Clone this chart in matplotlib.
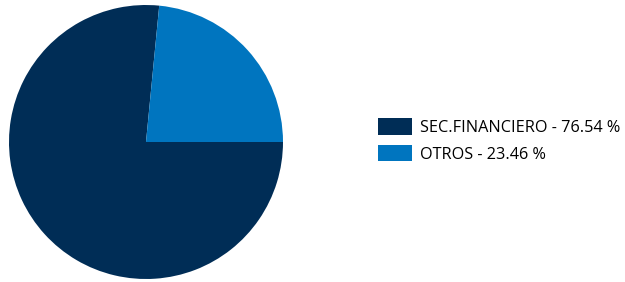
import matplotlib.pyplot as plt
from matplotlib.patches import Patch

labels = ['SEC.FINANCIERO', 'OTROS']
values = [76.54, 23.46]
colors = ['#002D56', '#0075BF']

fig = plt.figure(figsize=(6.25, 2.82), dpi=100)
plt.rcParams['font.family'] = ['Open Sans', 'DejaVu Sans']

# pie area
ax = fig.add_axes([9 / 625, 2 / 282, 274 / 625, 276 / 282])
ax.pie(values, colors=colors, startangle=0, counterclock=False, radius=1,
       wedgeprops=dict(linewidth=0))
ax.set_xlim(-1, 1)
ax.set_ylim(-1, 1)
ax.set_aspect('equal')
ax.axis('off')

# legend
handles = [Patch(facecolor=c, edgecolor='none') for c in colors]
legend_labels = [f'{l} - {v:.2f} %' for l, v in zip(labels, values)]
fig.legend(handles, legend_labels, loc='upper left',
           bbox_to_anchor=(378 / 625, 1 - 118 / 282),
           frameon=False, fontsize=11.7, borderpad=0, borderaxespad=0,
           handlelength=2.1, handleheight=1.2, handletextpad=0.5,
           labelspacing=0.55)

fig.savefig('out.png', dpi=100)
